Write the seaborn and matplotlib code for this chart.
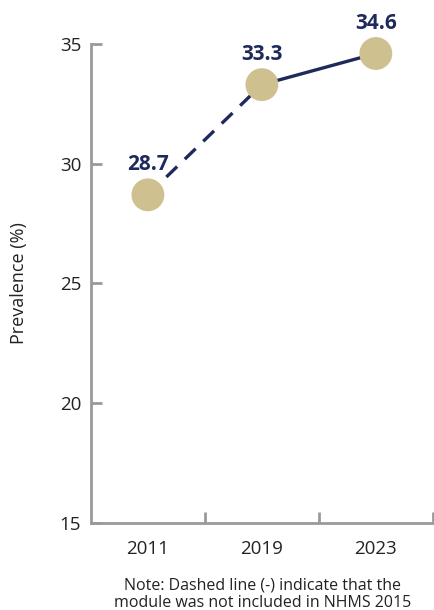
import matplotlib
matplotlib.use("Agg")
import matplotlib.pyplot as plt
import seaborn as sns
import pandas as pd
from matplotlib.ticker import FixedLocator

years = ["2011", "2019", "2023"]
prevalence = [28.7, 33.3, 34.6]
y_ticks = [15, 20, 25, 30, 35]
note = "Note: Dashed line (-) indicate that the\nmodule was not included in NHMS 2015"

navy = "#1f2a5c"
gold = "#cfc18f"
spine_grey = "#9a9a9a"

sns.set_theme(style="white")
plt.rcParams["font.family"] = ["Open Sans", "DejaVu Sans"]

df = pd.DataFrame({"pos": range(len(years)), "year": years, "value": prevalence})

fig = plt.figure(figsize=(4.35, 6.10), dpi=100)
ax = fig.add_axes([0.209, 0.1426, 0.786, 0.7854])

# dashed segment (no survey module in between), then solid segment
sns.lineplot(data=df.iloc[0:2], x="pos", y="value", ax=ax, color=navy,
             linewidth=2.4, linestyle=(0, (4.5, 3.2)), zorder=2)
sns.lineplot(data=df.iloc[1:3], x="pos", y="value", ax=ax, color=navy,
             linewidth=2.4, zorder=2)
sns.scatterplot(data=df, x="pos", y="value", ax=ax, color=gold, s=560,
                edgecolor="none", zorder=3, clip_on=False)

for x, v in zip(df["pos"], df["value"]):
    ax.annotate(f"{v:.1f}", (x, v), xytext=(0, 14), textcoords="offset points",
                ha="center", va="bottom", fontsize=15, fontweight="bold",
                color=navy, annotation_clip=False)

for c in ax.collections + ax.lines:
    c.set_clip_on(False)

ax.set_xlim(-0.5, 2.5)
ax.set_ylim(15, 35)
ax.set_yticks(y_ticks)
ax.set_yticklabels([str(t) for t in y_ticks], fontsize=13.5, color="#222222")
ax.set_xticks(df["pos"])
ax.set_xticklabels(years, fontsize=13.5, color="#222222")
ax.tick_params(axis="x", length=0, pad=12)
ax.tick_params(axis="y", left=True, direction="in", length=8, width=2,
               color=spine_grey, pad=7)

# separators between the year categories on the x axis
ax.xaxis.set_minor_locator(FixedLocator([0.5, 1.5, 2.5]))
ax.tick_params(axis="x", which="minor", direction="in", length=8, width=2,
               color=spine_grey, bottom=True)

ax.set_xlabel("")
ax.set_ylabel("Prevalence (%)", fontsize=13, color="#222222", labelpad=23)

for side in ["top", "right"]:
    ax.spines[side].set_visible(False)
for side in ["left", "bottom"]:
    ax.spines[side].set_color(spine_grey)
    ax.spines[side].set_linewidth(2)

fig.text(0.603, 0.026, note, ha="center", va="center", fontsize=11.5,
         color="#222222", linespacing=1.15)

fig.savefig("out.png", dpi=100)
